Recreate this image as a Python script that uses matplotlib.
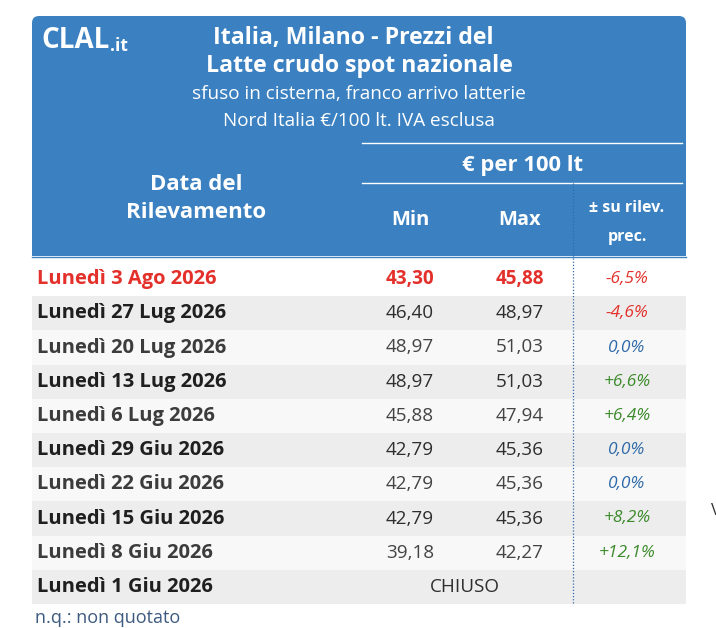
import matplotlib
matplotlib.use("Agg")
from matplotlib import pyplot as plt
from matplotlib.patches import FancyBboxPatch, Rectangle

# table data
dates = ['Lunedì 3 Ago 2026', 'Lunedì 27 Lug 2026', 'Lunedì 20 Lug 2026',
         'Lunedì 13 Lug 2026', 'Lunedì 6 Lug 2026', 'Lunedì 29 Giu 2026',
         'Lunedì 22 Giu 2026', 'Lunedì 15 Giu 2026', 'Lunedì 8 Giu 2026',
         'Lunedì 1 Giu 2026']
price_min = ['43,30', '46,40', '48,97', '48,97', '45,88', '42,79', '42,79',
             '42,79', '39,18', None]
price_max = ['45,88', '48,97', '51,03', '51,03', '47,94', '45,36', '45,36',
             '45,36', '42,27', None]
change = ['-6,5%', '-4,6%', '0,0%', '+6,6%', '+6,4%', '0,0%', '0,0%',
          '+8,2%', '+12,1%', '']
closed_label = 'CHIUSO'

title_lines = ['Italia, Milano - Prezzi del', 'Latte crudo spot nazionale']
sub_lines = ['sfuso in cisterna, franco arrivo latterie',
             'Nord Italia €/100 lt. IVA esclusa']

plt.rcParams['font.family'] = ['Open Sans', 'DejaVu Sans']

BLUE = '#3b81c1'
RED = '#e3302a'
PCT_BLUE = '#2f6aa8'
PCT_GREEN = '#3b8a2a'


def pct_color(s):
    if s.startswith('-'):
        return RED
    if s.startswith('+'):
        return PCT_GREEN
    return PCT_BLUE


fig = plt.figure(figsize=(7.16, 6.28), dpi=100)
ax = fig.add_axes([0, 0, 1, 1])
ax.set_xlim(0, 716)
ax.set_ylim(628, 0)
ax.axis('off')

# header box, rounded only at the top
L, R = 32, 686
ax.add_patch(FancyBboxPatch((L, 16), R - L, 240, boxstyle='round,pad=0,rounding_size=7',
                            fc=BLUE, ec='none'))
ax.add_patch(Rectangle((L, 200), R - L, 56, fc=BLUE, ec='none'))

# logo
ax.text(41, 40, 'CLAL', color='white', fontsize=20, fontweight='bold',
        va='center', ha='left')
ax.text(110, 46, '.it', color='white', fontsize=12.5, fontweight='bold',
        va='center', ha='left')

ax.text(353, 38, title_lines[0], color='white', fontsize=16.7, fontweight='bold',
        ha='center', va='center')
ax.text(359, 66, title_lines[1], color='white', fontsize=16.7, fontweight='bold',
        ha='center', va='center')
ax.text(359, 94, sub_lines[0], color='white', fontsize=13.6, ha='center', va='center')
ax.text(359, 121, sub_lines[1], color='white', fontsize=13.6, ha='center', va='center')

ax.plot([362, 682], [143, 143], color='white', lw=1)
ax.plot([362, 682], [183, 183], color='white', lw=1)
ax.text(522, 165, '€ per 100 lt', color='white', fontsize=15.8, fontweight='bold',
        ha='center', va='center')
ax.text(196, 185, 'Data del', color='white', fontsize=16, fontweight='bold',
        ha='center', va='center')
ax.text(196, 213, 'Rilevamento', color='white', fontsize=16, fontweight='bold',
        ha='center', va='center')

X_MIN, X_MAX, X_PCT = 410, 520, 627
ax.text(X_MIN, 220, 'Min', color='white', fontsize=14.5, fontweight='bold',
        ha='center', va='center')
ax.text(X_MAX, 220, 'Max', color='white', fontsize=14.5, fontweight='bold',
        ha='center', va='center')
ax.text(X_PCT, 208, '± su rilev.', color='white', fontsize=11.5, fontweight='bold',
        ha='center', va='center')
ax.text(X_PCT, 237, 'prec.', color='white', fontsize=11.5, fontweight='bold',
        ha='center', va='center')

# rows
top, h = 262, 34.2
for i, d in enumerate(dates):
    y0 = top + i * h
    yc = y0 + h / 2
    if i == 0:
        fc = 'white'
    elif i % 2 == 1:
        fc = '#ededed'
    else:
        fc = '#f8f8f8'
    ax.add_patch(Rectangle((L, y0), R - L, h, fc=fc, ec='none'))
    first = i == 0
    if first:
        dcol = ncol = RED
    elif i % 2 == 1:
        dcol, ncol = '#1f1f1f', '#2e2e2e'
    else:
        dcol, ncol = '#3c3c3c', '#444444'
    ax.text(37, yc, d, color=dcol, fontsize=14.5,
            fontweight='bold', ha='left', va='center')
    if price_min[i] is None:
        ax.text((X_MIN + X_MAX) / 2, yc, closed_label, color=ncol, fontsize=13.6,
                ha='center', va='center')
    else:
        ax.text(X_MIN, yc, price_min[i], color=ncol, fontsize=13.6,
                fontweight='bold' if first else 'normal', ha='center', va='center')
        ax.text(X_MAX, yc, price_max[i], color=ncol, fontsize=13.6,
                fontweight='bold' if first else 'normal', ha='center', va='center')
    if change[i]:
        ax.text(X_PCT, yc, change[i], color=pct_color(change[i]), fontsize=12.5,
                style='italic', ha='center', va='center')

ax.plot([573, 573], [183, top + len(dates) * h], color='#2f6aa8', lw=0.9,
        ls=(0, (1, 1.5)))
ax.plot([L, R], [256.5, 256.5], color=BLUE, lw=1)

ax.text(35, 618, 'n.q.: non quotato', color='#3d5a80', fontsize=13,
        ha='left', va='center')
ax.text(711, 511, 'V', color='#333333', fontsize=12, ha='left', va='center')

fig.savefig('out.png', dpi=100)
